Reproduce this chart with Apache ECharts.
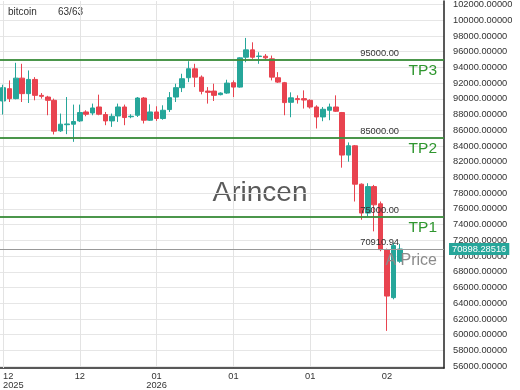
<!DOCTYPE html>
<html><head><meta charset="utf-8">
<script src="https://cdn.jsdelivr.net/npm/echarts@6/dist/echarts.min.js"></script>
<style>html,body{margin:0;padding:0;background:#fff}#c{width:520px;height:390px}</style>
</head><body><div id="c"></div>
<script>
const seriesName = 'bitcoin';
const opens = [89722,91291,90025,92633,90658,92468,90443,90228,89810,85924,86709,86772,87190,88329,88203,88962,88000,87190,87823,88962,87722,87912,90101,87279,88329,87494,88633,90228,91418,92684,93823,92760,90987,90987,90532,90734,92051,91494,95291,96228,95380,95418,95089,92684,92051,89557,90025,90025,89810,88962,87696,88545,88962,88253,82848,84026,79140,75469,78836,76646,70823,64710,69342];
const closes = [91418,90025,92633,90658,92468,90443,90317,89810,85886,86772,86800,87114,88253,88038,88836,88038,87190,87785,88962,87620,87785,90101,87279,88329,87494,88545,90152,91418,92557,93823,92760,90950,90823,90443,90734,92000,91494,95215,96228,95291,95443,95215,92760,92127,89519,90127,89899,89848,88962,87696,88671,88962,88418,82848,84026,79140,75469,78836,76519,70823,64912,71330,70898.28516];
const lows = [88000,89595,89937,89595,89469,89810,90025,87912,85469,85798,85507,84532,87063,87785,87912,87912,86646,86431,87063,86646,87532,87696,86861,87190,87190,87342,88329,89595,90861,92127,91494,90570,89393,89722,90443,90633,90228,91418,94658,95089,94456,95000,92342,92025,87912,87658,89393,88760,88760,86228,87152,87279,88329,81241,82000,76937,74621,75038,73140,70608,60482,64494,69140];
const highs = [91798,92342,94582,94456,93608,92760,90734,90380,90025,88127,90228,89266,89266,88544,89393,90532,88329,88127,89393,89266,88038,90228,90228,89304,89051,89177,90861,91924,93190,94785,94456,92975,91494,91924,90823,92430,92342,95291,97747,97190,95924,95696,95506,93393,92152,90823,90443,91076,89937,89177,88962,89393,90443,88329,84456,84127,79241,79266,79051,76937,70950,71671,71545];
const xTickIndex = [0, 12, 24, 36, 48, 60];
const xTickLabels = ['12\n2025', '12', '01\n2026', '01', '01', '02'];
const yTicks = [56000,58000,60000,62000,64000,66000,68000,70000,72000,74000,76000,78000,80000,82000,84000,86000,88000,90000,92000,94000,96000,98000,100000,102000];
const levels = [95000, 85000, 75000];
const levelNames = ['TP3', 'TP2', 'TP1'];
const refPrice = 70910.94;
const refName = 'A Price';
const lastPrice = 70898.28516;
const watermark = 'Arincen';

const FONT = 'Liberation Sans, Arial, sans-serif';
const UP = '#26a69a', DOWN = '#e8434f', LVL = '#3f8f3f', GRIDC = '#e3e3e3';
const candles = opens.map((o, i) => [i, o, closes[i], lows[i], highs[i]]);

const levelLines = [{xAxis: xTickIndex[0], lineStyle: {color: GRIDC, width: 1, type: 'solid'}, label: {show: false}}];
levels.forEach((v, i) => {
  levelLines.push({yAxis: v, lineStyle: {color: LVL, width: 1.5, type: 'solid'},
    label: {formatter: v.toFixed(2), position: 'insideEndTop', distance: [45, 2], color: '#333', fontSize: 9.3, fontFamily: FONT}});
  levelLines.push({yAxis: v, lineStyle: {color: LVL, width: 1.5, type: 'solid'},
    label: {formatter: levelNames[i], position: 'insideEndBottom', distance: [7, 3], color: '#2f962f', fontSize: 15.5, fontFamily: FONT}});
});
levelLines.push({yAxis: refPrice, lineStyle: {color: '#999', width: 1, type: 'solid'},
  label: {formatter: refPrice.toFixed(2), position: 'insideEndTop', distance: [45, 2], color: '#333', fontSize: 9.3, fontFamily: FONT}});
levelLines.push({yAxis: refPrice, lineStyle: {color: '#999', width: 1, type: 'solid'},
  label: {formatter: refName, position: 'insideEndBottom', distance: [7, 4], color: '#8a8a8a', fontSize: 16, fontFamily: FONT}});

const chart = echarts.init(document.getElementById('c'), null, {renderer: 'canvas'});
chart.setOption({
  animation: false,
  backgroundColor: '#fff',
  textStyle: {fontFamily: FONT},
  grid: {left: 0, right: 76, top: 0, bottom: 21},
  xAxis: {
    type: 'value', min: -0.47, max: 68.9,
    axisLine: {show: true, onZero: false, lineStyle: {color: '#222', width: 1.5}},
    axisTick: {show: false, customValues: xTickIndex},
    axisLabel: {customValues: xTickIndex, formatter: v => xTickLabels[xTickIndex.indexOf(v)],
      color: '#333', fontSize: 9.3, lineHeight: 9, margin: 4, alignMinLabel: 'left', fontFamily: FONT},
    splitLine: {show: true, showMinLine: false, showMaxLine: false, lineStyle: {color: GRIDC, width: 1}}
  },
  yAxis: {
    type: 'value', position: 'right', min: 55760, max: 102440,
    axisLine: {show: true, onZero: false, lineStyle: {color: '#222', width: 1.5}},
    axisTick: {show: false, customValues: yTicks},
    axisLabel: {customValues: yTicks, formatter: v => v.toFixed(5), color: '#333', fontSize: 9.3, margin: 9, fontFamily: FONT},
    splitLine: {show: true, lineStyle: {color: '#e6e6e6', width: 1}}
  },
  graphic: [
    {type: 'text', x: 8, y: 12.5, style: {text: seriesName, font: '10px ' + FONT, fill: '#333', verticalAlign: 'middle'}},
    {type: 'text', x: 58, y: 12.5, style: {text: opens.length + '/' + opens.length, font: '10px ' + FONT, fill: '#333', verticalAlign: 'middle'}},
    {type: 'text', x: 260, y: 193, z: 0, style: {text: watermark, font: '28px ' + FONT, fill: '#5a5a5a', align: 'center', verticalAlign: 'middle'}}
  ],
  series: [
    {type: 'line', name: 'levels', data: [], z: 1, silent: true,
      markLine: {silent: true, symbol: 'none', animation: false, data: levelLines}},
    {type: 'candlestick', name: seriesName, data: candles, z: 3, barWidth: 5,
      itemStyle: {color: UP, color0: DOWN, borderColor: UP, borderColor0: DOWN, borderWidth: 1}},
    {type: 'line', name: 'last', data: [], z: 6, silent: true, clip: false,
      markLine: {silent: true, symbol: 'none', animation: false,
        data: [{yAxis: lastPrice, lineStyle: {color: 'rgba(0,0,0,0)', width: 0},
          label: {position: 'end', formatter: lastPrice.toFixed(5), backgroundColor: UP, color: '#fff', opacity: 1,
            padding: [2, 3, 1, 3], fontSize: 9.3, distance: 5, fontFamily: FONT}}]}}
  ]
});
</script></body></html>
